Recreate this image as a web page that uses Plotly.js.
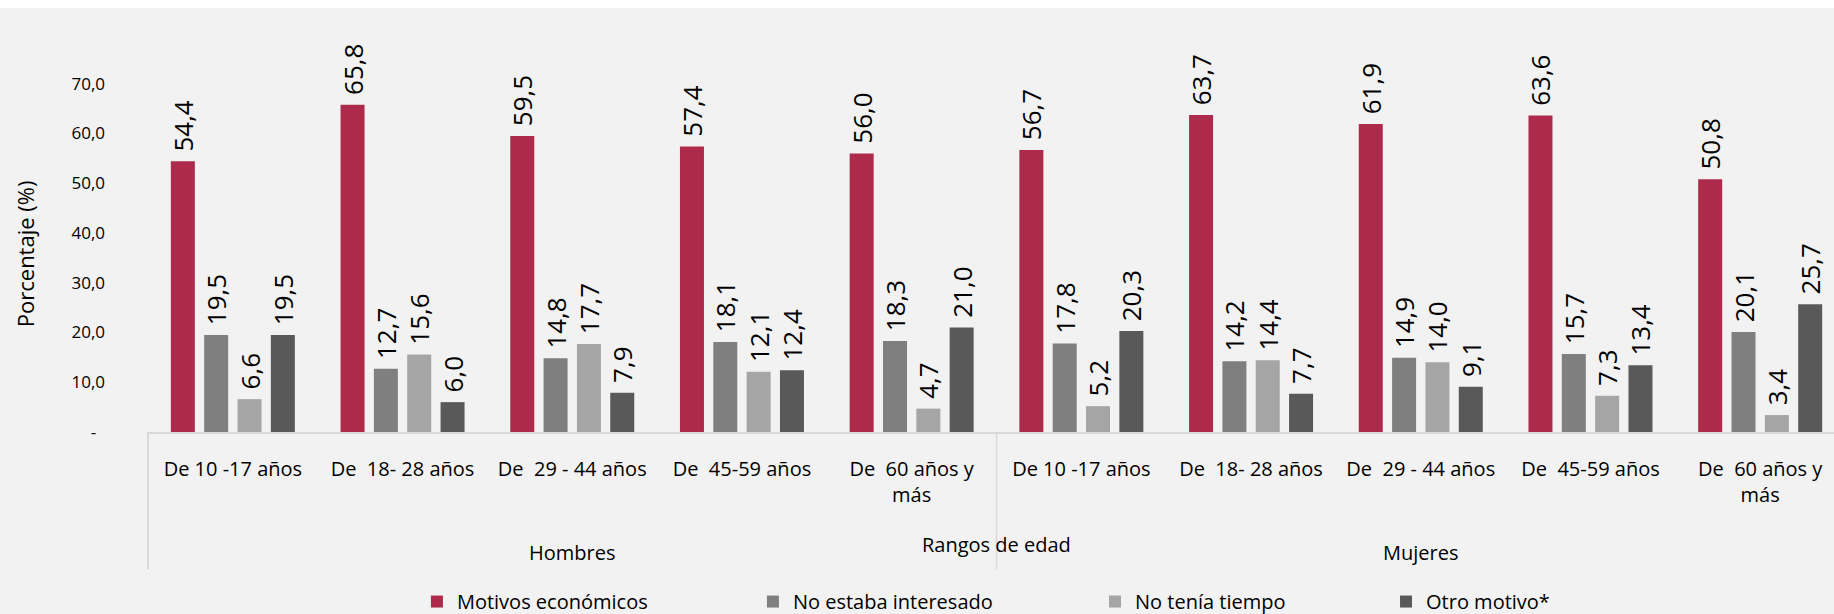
<!DOCTYPE html>
<html>
<head>
<meta charset="utf-8">
<script src="https://cdn.plot.ly/plotly-3.0.1.min.js"></script>
<style>
  html, body { margin: 0; padding: 0; background: #ffffff; overflow: hidden; }
  #chart { position: absolute; left: 0; top: 8px; width: 1834px; height: 606px; }
</style>
</head>
<body>
<div id="chart"></div>
<script>
// ---- Data ----
const groups = ['Hombres', 'Mujeres'];
const ageRanges = ['De 10 -17 años', 'De \u00a018- 28 años', 'De \u00a029 - 44 años', 'De \u00a045-59 años', 'De \u00a060 años y<br>más'];
const seriesNames = ['Motivos económicos', 'No estaba interesado', 'No tenía tiempo', 'Otro motivo*'];
const motivosEconomicos = [54.4, 65.8, 59.5, 57.4, 56.0, 56.7, 63.7, 61.9, 63.6, 50.8];
const noEstabaInteresado = [19.5, 12.7, 14.8, 18.1, 18.3, 17.8, 14.2, 14.9, 15.7, 20.1];
const noTeniaTiempo = [6.6, 15.6, 17.7, 12.1, 4.7, 5.2, 14.4, 14.0, 7.3, 3.4];
const otroMotivo = [19.5, 6.0, 7.9, 12.4, 21.0, 20.3, 7.7, 9.1, 13.4, 25.7];
const yTickVals = [0, 10, 20, 30, 40, 50, 60, 70];
const yTickText = ['-\u00a0\u00a0', '10,0', '20,0', '30,0', '40,0', '50,0', '60,0', '70,0'];
const yTitle = 'Porcentaje (%)';
const xTitle = 'Rangos de edad';

// ---- Build ----
const colors = ['#ad2a4a', '#7f7f7f', '#a5a5a5', '#595959'];
const allSeries = [motivosEconomicos, noEstabaInteresado, noTeniaTiempo, otroMotivo];
const catLabels = [];
groups.forEach(() => ageRanges.forEach(a => catLabels.push(a)));
const xPos = catLabels.map((_, i) => i);

const legendNames = ['legend', 'legend2', 'legend3', 'legend4'];
const traces = allSeries.map((vals, k) => ({
  type: 'bar',
  name: seriesNames[k],
  x: xPos,
  y: vals,
  marker: { color: colors[k] },
  texttemplate: '\u00a0%{y:.1f}',
  textposition: 'outside',
  textangle: -90,
  constraintext: 'none',
  cliponaxis: false,
  textfont: { family: 'Open Sans', size: 26, color: '#000000' },
  legend: legendNames[k],
  hoverinfo: 'skip'
}));

const legendX = [0.1595, 0.3588, 0.5617, 0.7343];
const legendBase = (x) => ({
  orientation: 'h', x: x, xanchor: 'left', y: -0.426, yanchor: 'middle',
  bgcolor: 'rgba(0,0,0,0)', font: { family: 'Open Sans', size: 20, color: '#000000' }
});

const groupCenters = groups.map((g, gi) => gi * ageRanges.length + (ageRanges.length - 1) / 2);
const annotations = groups.map((g, gi) => ({
  text: g, xref: 'x', yref: 'paper', x: groupCenters[gi], y: -0.3027,
  xanchor: 'center', yanchor: 'middle', showarrow: false,
  font: { family: 'Open Sans', size: 20, color: '#000000' }
}));
annotations.push({
  text: xTitle, xref: 'x', yref: 'paper', x: ageRanges.length - 0.5, y: -0.282,
  xanchor: 'center', yanchor: 'middle', showarrow: false,
  font: { family: 'Open Sans', size: 20, color: '#000000' }
});
annotations.push({
  text: yTitle, xref: 'paper', yref: 'paper', x: -0.073, y: 0.449, textangle: -90,
  xanchor: 'center', yanchor: 'middle', showarrow: false,
  font: { family: 'Open Sans', size: 22, color: '#000000' }
});

const shapes = [
  { type: 'line', xref: 'x domain', yref: 'paper', x0: 0, x1: 0, y0: 0, y1: -0.345, line: { color: '#d9d9d9', width: 2 } },
  { type: 'line', xref: 'x', yref: 'paper', x0: ageRanges.length - 0.5, x1: ageRanges.length - 0.5, y0: 0, y1: -0.345, line: { color: '#d9d9d9', width: 1.5 } }
];

const layout = {
  width: 1834, height: 606,
  margin: { l: 148, r: 0, t: 26, b: 182, autoexpand: false },
  paper_bgcolor: '#f2f2f2', plot_bgcolor: '#f2f2f2',
  barmode: 'group', bargap: 0.2143, bargroupgap: 0.28,
  separators: ',.',
  showlegend: true,
  font: { family: 'Open Sans', color: '#000000' },
  xaxis: {
    range: [-0.5, 9.435], tickvals: xPos, ticktext: catLabels,
    showline: true, linecolor: '#d9d9d9', linewidth: 2,
    showgrid: false, zeroline: false, ticks: '',
    tickfont: { family: 'Open Sans', size: 20, color: '#000000' },
    ticklabelstandoff: 18, fixedrange: true, automargin: false
  },
  yaxis: {
    range: [0, 80], tickvals: yTickVals, ticktext: yTickText,
    showline: false, showgrid: false, zeroline: false, ticks: '',
    tickfont: { family: 'Open Sans', size: 17, color: '#000000' },
    ticklabelstandoff: 42, fixedrange: true, automargin: false
  },
  legend: legendBase(legendX[0]),
  legend2: legendBase(legendX[1]),
  legend3: legendBase(legendX[2]),
  legend4: legendBase(legendX[3]),
  annotations: annotations,
  shapes: shapes
};

Plotly.newPlot('chart', traces, layout, { displayModeBar: false, staticPlot: true });
</script>
</body>
</html>
